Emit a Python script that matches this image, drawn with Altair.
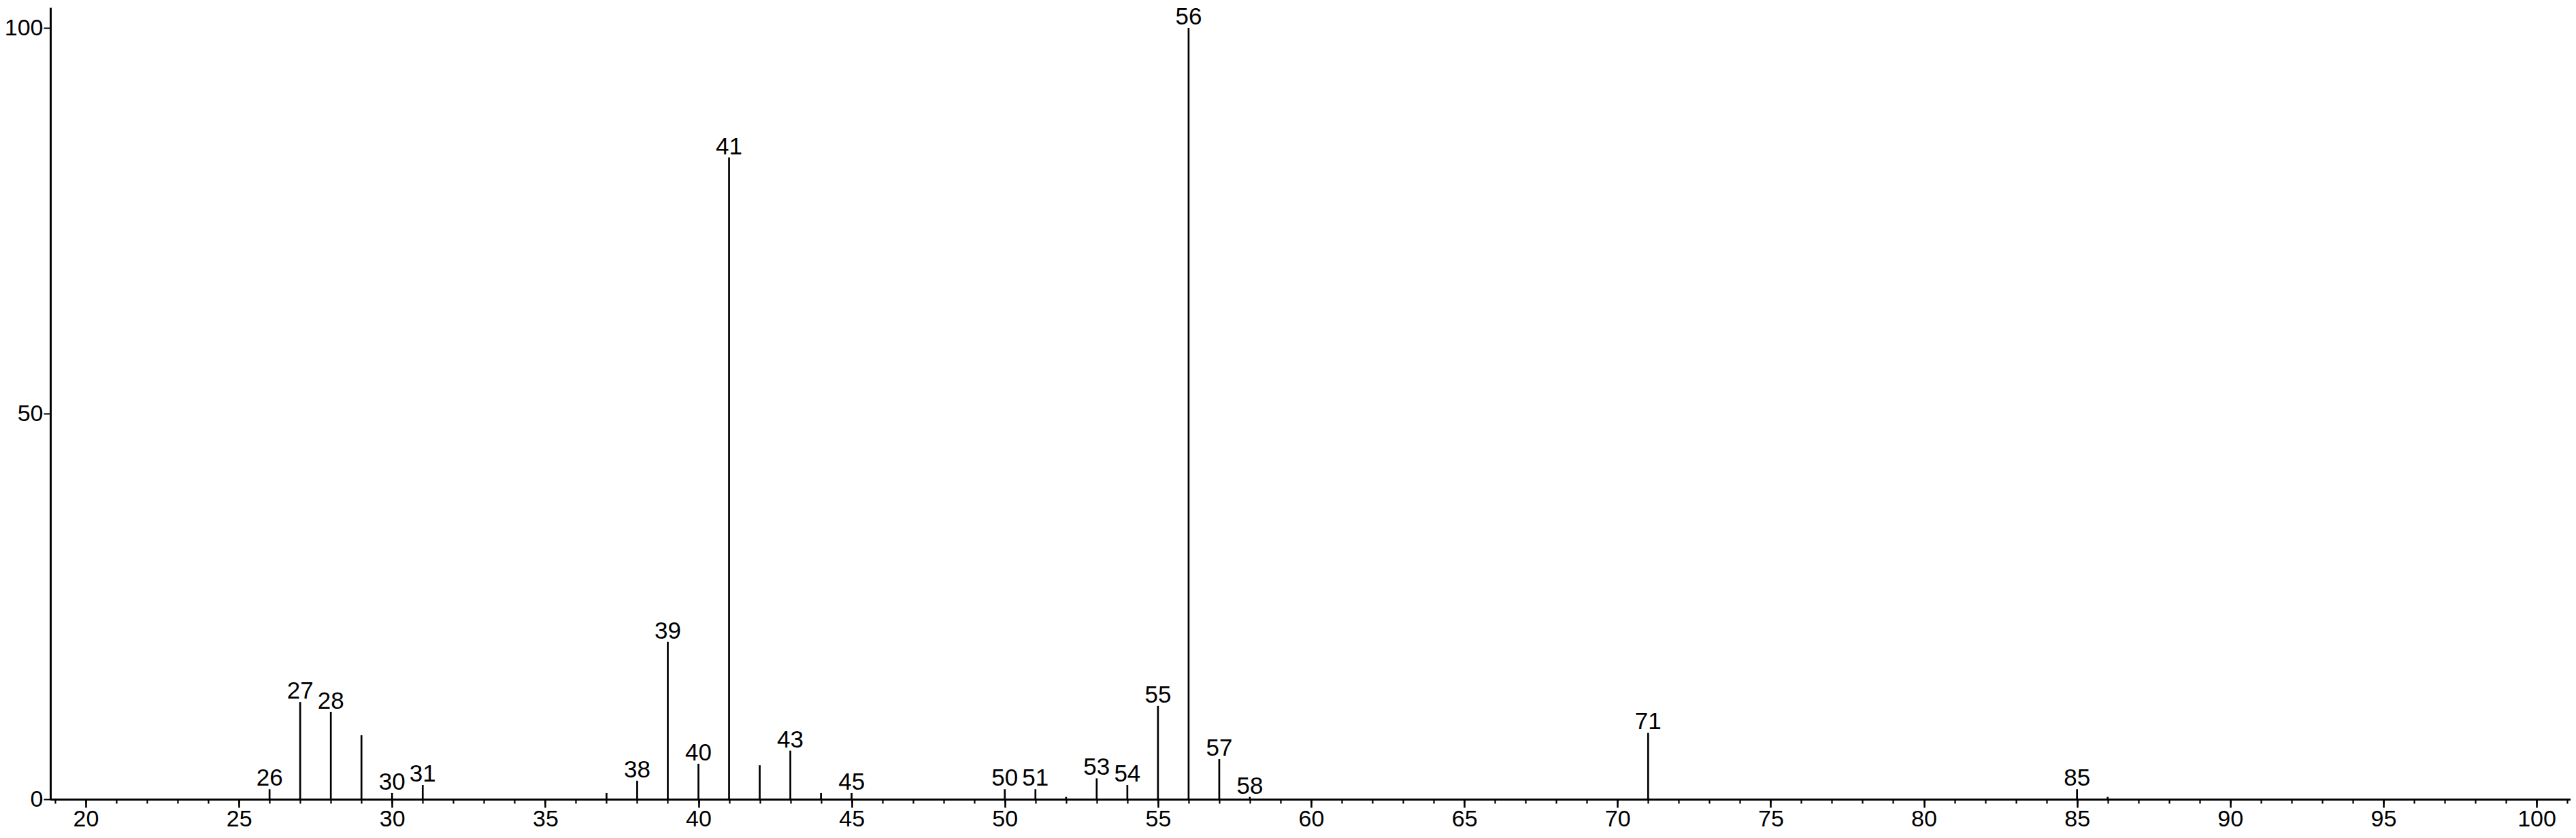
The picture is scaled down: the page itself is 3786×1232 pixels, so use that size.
import altair as alt
import pandas as pd

# m/z positions of the peaks and their relative intensities (%)
mz = [26, 27, 28, 29, 30, 31, 37, 38, 39, 40, 41, 42, 43, 44, 45,
      50, 51, 52, 53, 54, 55, 56, 57, 58, 71, 85, 86]
intensity = [1.3, 12.6, 11.3, 8.3, 0.8, 1.85, 0.8, 2.4, 20.4, 4.6, 83.2, 4.4, 6.3, 0.8, 0.8,
             1.3, 1.3, 0.3, 2.7, 1.85, 12.1, 100.0, 5.2, 0.3, 8.6, 1.3, 0.3]
# peaks that carry a text label
labeled = [26, 27, 28, 30, 31, 38, 39, 40, 41, 43, 45, 50, 51, 53, 54, 55, 56, 57, 58, 71, 85]

x_major_ticks = list(range(20, 101, 5))
x_minor_ticks = list(range(19, 102))
y_ticks = [0, 50, 100]

df = pd.DataFrame({"mz": mz, "intensity": intensity})
df["label"] = [str(m) if m in labeled else "" for m in mz]

FONT = "Liberation Sans"
W, H = 3704, 1164

x_scale = alt.Scale(domain=[18.845, 101.11], nice=False, zero=False)
y_scale = alt.Scale(domain=[0, 102.65], nice=False, zero=False)

y_axis = alt.Axis(values=y_ticks, title=None, grid=False, tickSize=10, tickWidth=2,
                  tickColor="black", domainColor="black", domainWidth=3,
                  labelFont=FONT, labelFontSize=34, labelColor="black", labelPadding=1,
                  labelFlush=False, labelOverlap=False)

minor_axis = alt.Axis(values=x_minor_ticks, orient="bottom", title=None, grid=False,
                      labels=False, tickSize=6, tickWidth=2.2, tickColor="black",
                      domainColor="black", domainWidth=3)

major_axis = alt.Axis(values=x_major_ticks, orient="bottom", title=None, grid=False,
                      tickSize=12, tickWidth=2.6, tickColor="black",
                      domainColor="black", domainWidth=3,
                      labelFont=FONT, labelFontSize=34, labelColor="black",
                      labelPadding=0, labelFlush=False, labelOverlap=False)

rules = alt.Chart(df).mark_rule(color="black", strokeWidth=2.7).encode(
    x=alt.X("mz:Q", scale=x_scale, axis=minor_axis),
    y=alt.Y("intensity:Q", scale=y_scale, axis=y_axis),
    y2=alt.datum(0),
)

labels = alt.Chart(df).mark_text(
    font=FONT, fontSize=35, color="black", baseline="alphabetic", align="center", dy=-5
).encode(
    x=alt.X("mz:Q", scale=x_scale, axis=major_axis),
    y=alt.Y("intensity:Q", scale=y_scale, axis=y_axis),
    text="label:N",
)

chart = alt.layer(rules, labels).resolve_axis(x="independent").properties(
    width=W, height=H,
    autosize=alt.AutoSizeParams(type="none"),
    padding={"left": 66, "top": 3, "right": 0, "bottom": 54},
    background="white",
).configure_view(stroke=None)

chart.save("out.html", embed_options={"renderer": "svg", "actions": False})
